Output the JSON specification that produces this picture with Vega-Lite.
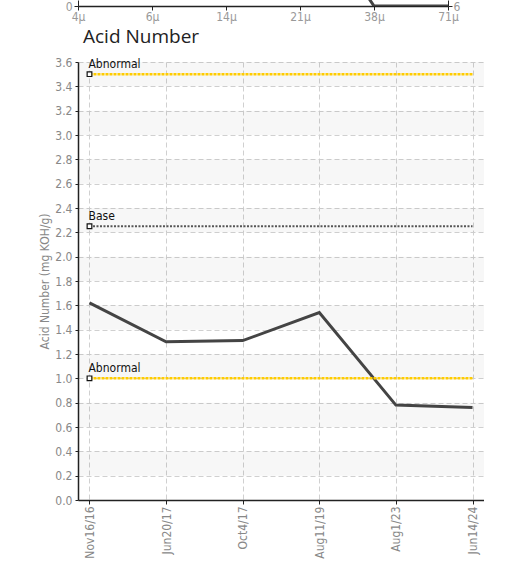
{
  "$schema": "https://vega.github.io/schema/vega-lite/v6.json",
  "padding": {"left": 38, "top": 0, "right": 0, "bottom": 0},
  "background": "white",
  "config": {
    "view": {"stroke": null},
    "font": "Liberation Sans Narrow, DejaVu Sans Condensed, Roboto, sans-serif"
  },
  "datasets": {
    "particles": [
      {"size": "4μ", "count": 42000},
      {"size": "6μ", "count": 28000},
      {"size": "14μ", "count": 16000},
      {"size": "21μ", "count": 11000},
      {"size": "38μ", "count": 0},
      {"size": "71μ", "count": 0}
    ],
    "acid": [
      {"date": "Nov16/16", "value": 1.62},
      {"date": "Jun20/17", "value": 1.3},
      {"date": "Oct4/17", "value": 1.31},
      {"date": "Aug11/19", "value": 1.54},
      {"date": "Aug1/23", "value": 0.78},
      {"date": "Jun14/24", "value": 0.76}
    ],
    "thresholds": [
      {"label": "Abnormal", "kind": "limit", "value": 3.5, "start": "Nov16/16", "end": "Jun14/24"},
      {"label": "Base", "kind": "base", "value": 2.25, "start": "Nov16/16", "end": "Jun14/24"},
      {"label": "Abnormal", "kind": "limit", "value": 1.0, "start": "Nov16/16", "end": "Jun14/24"}
    ],
    "bands": [
      {"lo": 0.2, "hi": 0.4},
      {"lo": 0.6, "hi": 0.8},
      {"lo": 1.0, "hi": 1.2},
      {"lo": 1.4, "hi": 1.6},
      {"lo": 1.8, "hi": 2.0},
      {"lo": 2.2, "hi": 2.4},
      {"lo": 2.6, "hi": 2.8},
      {"lo": 3.0, "hi": 3.2},
      {"lo": 3.4, "hi": 3.6}
    ]
  },
  "spacing": 6,
  "vconcat": [
    {
      "width": 370,
      "height": 6,
      "layer": [
        {
          "data": {"name": "particles"},
          "mark": {"type": "line", "color": "#444", "strokeWidth": 3, "clip": true},
          "encoding": {
            "x": {
              "field": "size", "type": "nominal",
              "scale": {"type": "point", "padding": 0, "domain": ["4μ", "6μ", "14μ", "21μ", "38μ", "71μ"]},
              "axis": {"title": null, "labelAngle": 0, "labelColor": "#999", "labelFontSize": 12, "domainColor": "#222", "domainWidth": 1.5, "tickColor": "#222", "tickSize": 4, "labelPadding": 1, "grid": false}
            },
            "y": {
              "field": "count", "type": "quantitative",
              "scale": {"domain": [0, 600], "nice": false},
              "axis": {"title": null, "values": [0], "labelColor": "#999", "labelFontSize": 12, "domainColor": "#222", "tickColor": "#222", "tickSize": 4, "labelPadding": 2, "grid": false}
            }
          }
        },
        {
          "mark": {"type": "rule", "opacity": 0},
          "encoding": {
            "y": {
              "datum": 6, "type": "quantitative",
              "scale": {"domain": [6, 12], "nice": false},
              "axis": {"title": null, "orient": "right", "values": [6], "labelColor": "#999", "labelFontSize": 12, "domainColor": "#222", "tickColor": "#222", "tickSize": 4, "labelPadding": 1, "grid": false}
            }
          }
        }
      ],
      "resolve": {"scale": {"y": "independent"}}
    },
    {
      "width": 406,
      "height": 438,
      "title": {"text": "Acid Number", "anchor": "start", "frame": "group", "dx": 5, "fontSize": 19, "fontWeight": "normal", "font": "Open Sans", "color": "#222", "offset": 9},
      "encoding": {
        "y": {
          "type": "quantitative",
          "scale": {"domain": [0, 3.6], "nice": false},
          "axis": {"title": "Acid Number (mg KOH/g)", "titleColor": "#888", "titleFontSize": 12, "titleFontWeight": "normal", "titlePadding": 3, "tickCount": 18, "format": ".1f", "labelOverlap": false, "labelColor": "#888", "labelFontSize": 12, "domainColor": "#222", "domainWidth": 1.5, "tickColor": "#222", "tickSize": 3, "labelPadding": 3, "grid": true, "gridColor": "#d0d0d0", "gridDash": [5, 3]}
        }
      },
      "layer": [
        {
          "data": {"name": "bands"},
          "mark": {"type": "rect", "color": "#000", "opacity": 0.03},
          "encoding": {
            "y": {"field": "lo", "type": "quantitative", "scale": {"domain": [0, 3.6], "nice": false}, "title": "Acid Number (mg KOH/g)"},
            "y2": {"field": "hi"}
          }
        },
        {
          "data": {"name": "acid"},
          "mark": {"type": "line", "color": "#444", "strokeWidth": 3},
          "encoding": {
            "x": {
              "field": "date", "type": "nominal",
              "scale": {"type": "point", "padding": 0.15, "domain": ["Nov16/16", "Jun20/17", "Oct4/17", "Aug11/19", "Aug1/23", "Jun14/24"]},
              "axis": {"title": null, "labelAngle": -90, "labelColor": "#888", "labelFontSize": 12, "domainColor": "#222", "domainWidth": 1.5, "tickColor": "#222", "tickSize": 4, "labelPadding": 2, "grid": true, "gridColor": "#d0d0d0", "gridDash": [5, 3]}
            },
            "y": {"field": "value", "type": "quantitative", "scale": {"domain": [0, 3.6], "nice": false}, "title": "Acid Number (mg KOH/g)"}
          }
        },
        {
          "data": {"name": "thresholds"},
          "transform": [{"filter": "datum.kind === 'limit'"}],
          "mark": {"type": "rule", "color": "#FFCC00", "strokeWidth": 2.5, "strokeDash": [3, 1]},
          "encoding": {
            "x": {"field": "start", "type": "nominal"},
            "x2": {"field": "end"},
            "y": {"field": "value", "type": "quantitative"}
          }
        },
        {
          "data": {"name": "thresholds"},
          "transform": [{"filter": "datum.kind === 'base'"}],
          "mark": {"type": "rule", "color": "#555", "strokeWidth": 2, "strokeDash": [2, 1.5]},
          "encoding": {
            "x": {"field": "start", "type": "nominal"},
            "x2": {"field": "end"},
            "y": {"field": "value", "type": "quantitative"}
          }
        },
        {
          "data": {"name": "thresholds"},
          "mark": {"type": "point", "shape": "square", "size": 22, "filled": true, "fill": "white", "stroke": "#111", "strokeWidth": 1.2, "opacity": 1},
          "encoding": {
            "x": {"field": "start", "type": "nominal"},
            "y": {"field": "value", "type": "quantitative"}
          }
        },
        {
          "data": {"name": "thresholds"},
          "mark": {"type": "text", "align": "left", "baseline": "bottom", "dx": -1, "dy": -3, "fontSize": 12, "color": "#111"},
          "encoding": {
            "x": {"field": "start", "type": "nominal"},
            "y": {"field": "value", "type": "quantitative"},
            "text": {"field": "label"}
          }
        }
      ]
    }
  ]
}
